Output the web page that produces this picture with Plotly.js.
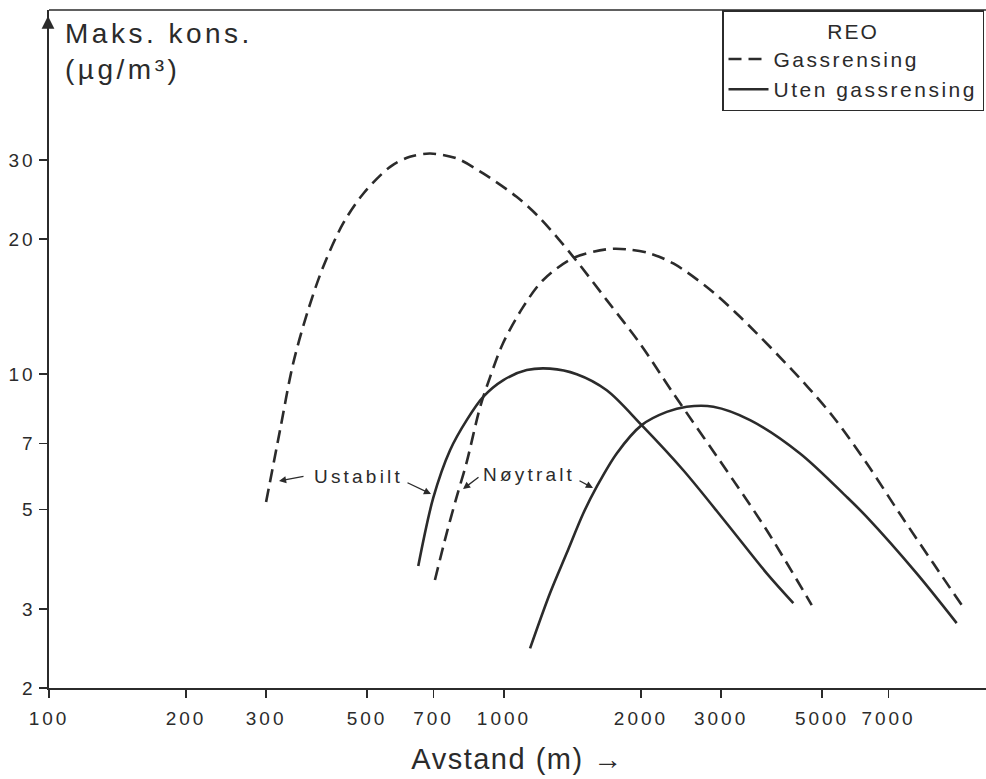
<!DOCTYPE html>
<html>
<head>
<meta charset="utf-8">
<script src="https://cdn.plot.ly/plotly-3.0.1.min.js"></script>
<style>
  html, body { margin: 0; padding: 0; background: #fff; }
  #chart { width: 986px; height: 779px; }
  g.xtick text, g.ytick text { letter-spacing: 3px; }
  .legendtext { letter-spacing: 2.5px; }
  .legendtitletext { letter-spacing: 2px; }
  .xtitle { letter-spacing: 1.5px; }
</style>
</head>
<body>
<div id="chart"></div>
<script>
// ---- Data (log-log chart) ----
// Ustabilt, gassrensing (dashed)
const ustabiltGassX = [300, 322, 344, 371, 401, 443, 491, 562, 621, 688, 787, 900, 1066, 1200, 1420, 1682, 1990, 2356, 3192, 3780, 4746];
const ustabiltGassY = [5.19, 7.51, 10.56, 13.88, 17.4, 21.66, 25.26, 28.95, 30.48, 31.0, 30.23, 27.99, 24.83, 22.25, 18.25, 14.62, 11.7, 9.06, 5.80, 4.49, 3.06];
// Ustabilt, uten gassrensing (solid)
const ustabiltUtenX = [648, 699, 761, 828, 900, 997, 1122, 1262, 1445, 1682, 2007, 2478, 3088, 3780, 4324];
const ustabiltUtenY = [3.74, 5.3, 6.77, 7.90, 8.90, 9.70, 10.21, 10.29, 10.0, 9.21, 7.70, 6.11, 4.65, 3.60, 3.09];
// Nøytralt, gassrensing (dashed)
const noytraltGassX = [705, 748, 787, 828, 886, 932, 995, 1101, 1218, 1418, 1682, 1861, 2094, 2356, 2790, 3302, 4473, 5294, 6268, 7420, 8781, 10137];
const noytraltGassY = [3.48, 4.42, 5.33, 6.37, 8.44, 9.85, 11.72, 14.10, 16.19, 18.13, 18.97, 18.97, 18.57, 17.64, 15.64, 13.42, 9.78, 8.03, 6.33, 4.88, 3.79, 3.06];
// Nøytralt, uten gassrensing (solid)
const noytraltUtenX = [1141, 1262, 1373, 1494, 1598, 1769, 2007, 2279, 2521, 2884, 3474, 4473, 5664, 6268, 8072, 9883];
const noytraltUtenY = [2.45, 3.25, 3.99, 4.90, 5.61, 6.66, 7.70, 8.24, 8.46, 8.46, 7.90, 6.66, 5.33, 4.81, 3.60, 2.79];

const xTickVals = [100, 200, 300, 500, 700, 1000, 2000, 3000, 5000, 7000];
const xTickText = ['100', '200', '300', '500', '700', '1000', '2000', '3000', '5000', '7000'];
const yTickVals = [2, 3, 5, 7, 10, 20, 30];
const yTickText = ['2', '3', '5', '7', '10', '20', '30'];

const legendTitle = 'REO';
const nameGass = 'Gassrensing';
const nameUten = 'Uten gassrensing';
const labelUstabilt = 'Ustabilt';
const labelNoytralt = 'Nøytralt';
const yTitleLines = ['Maks. kons.', '(µg/m³)'];
const xTitle = 'Avstand (m) →';

// ---- Styling ----
const ink = '#2b2b2b';
const FONT = '"Liberation Sans", Arial, Helvetica, sans-serif';
const dashStyle = '13px,7px';

function curve(x, y, name, dashed, showlegend) {
  return {
    type: 'scatter', mode: 'lines', x: x, y: y, name: name,
    showlegend: showlegend, legendgroup: name,
    line: { color: ink, width: 2.6, dash: dashed ? dashStyle : 'solid', shape: 'spline', smoothing: 0.9 },
    hoverinfo: 'skip'
  };
}

const traces = [
  curve(ustabiltGassX, ustabiltGassY, nameGass, true, true),
  curve(noytraltGassX, noytraltGassY, nameGass, true, false),
  curve(ustabiltUtenX, ustabiltUtenY, nameUten, false, true),
  curve(noytraltUtenX, noytraltUtenY, nameUten, false, false)
];

// layout geometry
const L = 49, R = 0, T = 10, B = 91;
const W = 986, H = 779;
const pw = W - L - R, ph = H - T - B;
function px2paperX(p) { return (p - L) / pw; }
function px2paperY(p) { return (H - B - p) / ph; }
function spaced(t, ls) { return '<span style="letter-spacing:' + ls + 'px">' + t + '</span>'; }

const arrowCommon = { text: '', showarrow: true, arrowhead: 2, arrowsize: 1.1, arrowwidth: 1.3, arrowcolor: ink, xref: 'paper', yref: 'paper', axref: 'pixel', ayref: 'pixel' };

const layout = {
  width: W, height: H,
  margin: { l: L, r: R, t: T, b: B, pad: 0 },
  paper_bgcolor: '#ffffff', plot_bgcolor: '#ffffff',
  font: { family: FONT, color: ink, size: 18 },
  showlegend: true,
  legend: {
    x: px2paperX(722), y: 1, xanchor: 'left', yanchor: 'top',
    bgcolor: '#ffffff', bordercolor: ink, borderwidth: 1.5,
    font: { family: FONT, size: 21, color: ink },
    title: { text: legendTitle, side: 'top center', font: { family: FONT, size: 21, color: ink } },
    itemwidth: 40, tracegroupgap: 0, traceorder: 'normal'
  },
  xaxis: {
    type: 'log', range: [2, 2 + pw / 455],
    tickvals: xTickVals, ticktext: xTickText,
    showgrid: false, zeroline: false,
    showline: true, linecolor: ink, linewidth: 1.6,
    ticks: 'outside', ticklen: 8, tickwidth: 1.4, tickcolor: ink,
    ticklabelstandoff: 5,
    tickfont: { family: FONT, size: 19, color: ink },
    title: { text: xTitle, font: { family: FONT, size: 29, color: ink }, standoff: 20 },
    automargin: false
  },
  yaxis: {
    type: 'log', range: [Math.log10(2), Math.log10(2) + ph / 449],
    tickvals: yTickVals, ticktext: yTickText,
    showgrid: false, zeroline: false,
    showline: true, linecolor: ink, linewidth: 1.6,
    ticks: 'outside', ticklen: 8, tickwidth: 1.4, tickcolor: ink,
    tickfont: { family: FONT, size: 19, color: ink },
    automargin: false
  },
  shapes: [
    { type: 'line', xref: 'paper', yref: 'paper', x0: 0, x1: 1, y0: 1, y1: 1, line: { color: ink, width: 1.4 } }
  ],
  annotations: [
    { text: spaced(yTitleLines[0], 3.5) + '<br>' + spaced(yTitleLines[1], 3.5), xref: 'paper', yref: 'paper', x: px2paperX(63), y: px2paperY(16), xanchor: 'left', yanchor: 'top', align: 'left', showarrow: false, font: { family: FONT, size: 28, color: ink } },
    // arrowhead at top of y axis
    Object.assign({}, arrowCommon, { x: px2paperX(48), y: px2paperY(16), ax: 0, ay: 14, arrowhead: 2, arrowsize: 1.6, arrowwidth: 1.6 }),
    // Ustabilt label and pointers
    { text: spaced(labelUstabilt, 3.2), xref: 'paper', yref: 'paper', x: px2paperX(358), y: px2paperY(476), xanchor: 'center', yanchor: 'middle', showarrow: false, font: { family: FONT, size: 19, color: ink } },
    Object.assign({}, arrowCommon, { x: px2paperX(279), y: px2paperY(481), ax: 26, ay: -5 }),
    Object.assign({}, arrowCommon, { x: px2paperX(431), y: px2paperY(494), ax: -25, ay: -12 }),
    // Nøytralt label and pointers
    { text: spaced(labelNoytralt, 3.2), xref: 'paper', yref: 'paper', x: px2paperX(529), y: px2paperY(474), xanchor: 'center', yanchor: 'middle', showarrow: false, font: { family: FONT, size: 19, color: ink } },
    Object.assign({}, arrowCommon, { x: px2paperX(463), y: px2paperY(489), ax: 17, ay: -13 }),
    Object.assign({}, arrowCommon, { x: px2paperX(593), y: px2paperY(488), ax: -15, ay: -8 })
  ]
};

Plotly.newPlot('chart', traces, layout, { staticPlot: true, displayModeBar: false });
</script>
</body>
</html>
